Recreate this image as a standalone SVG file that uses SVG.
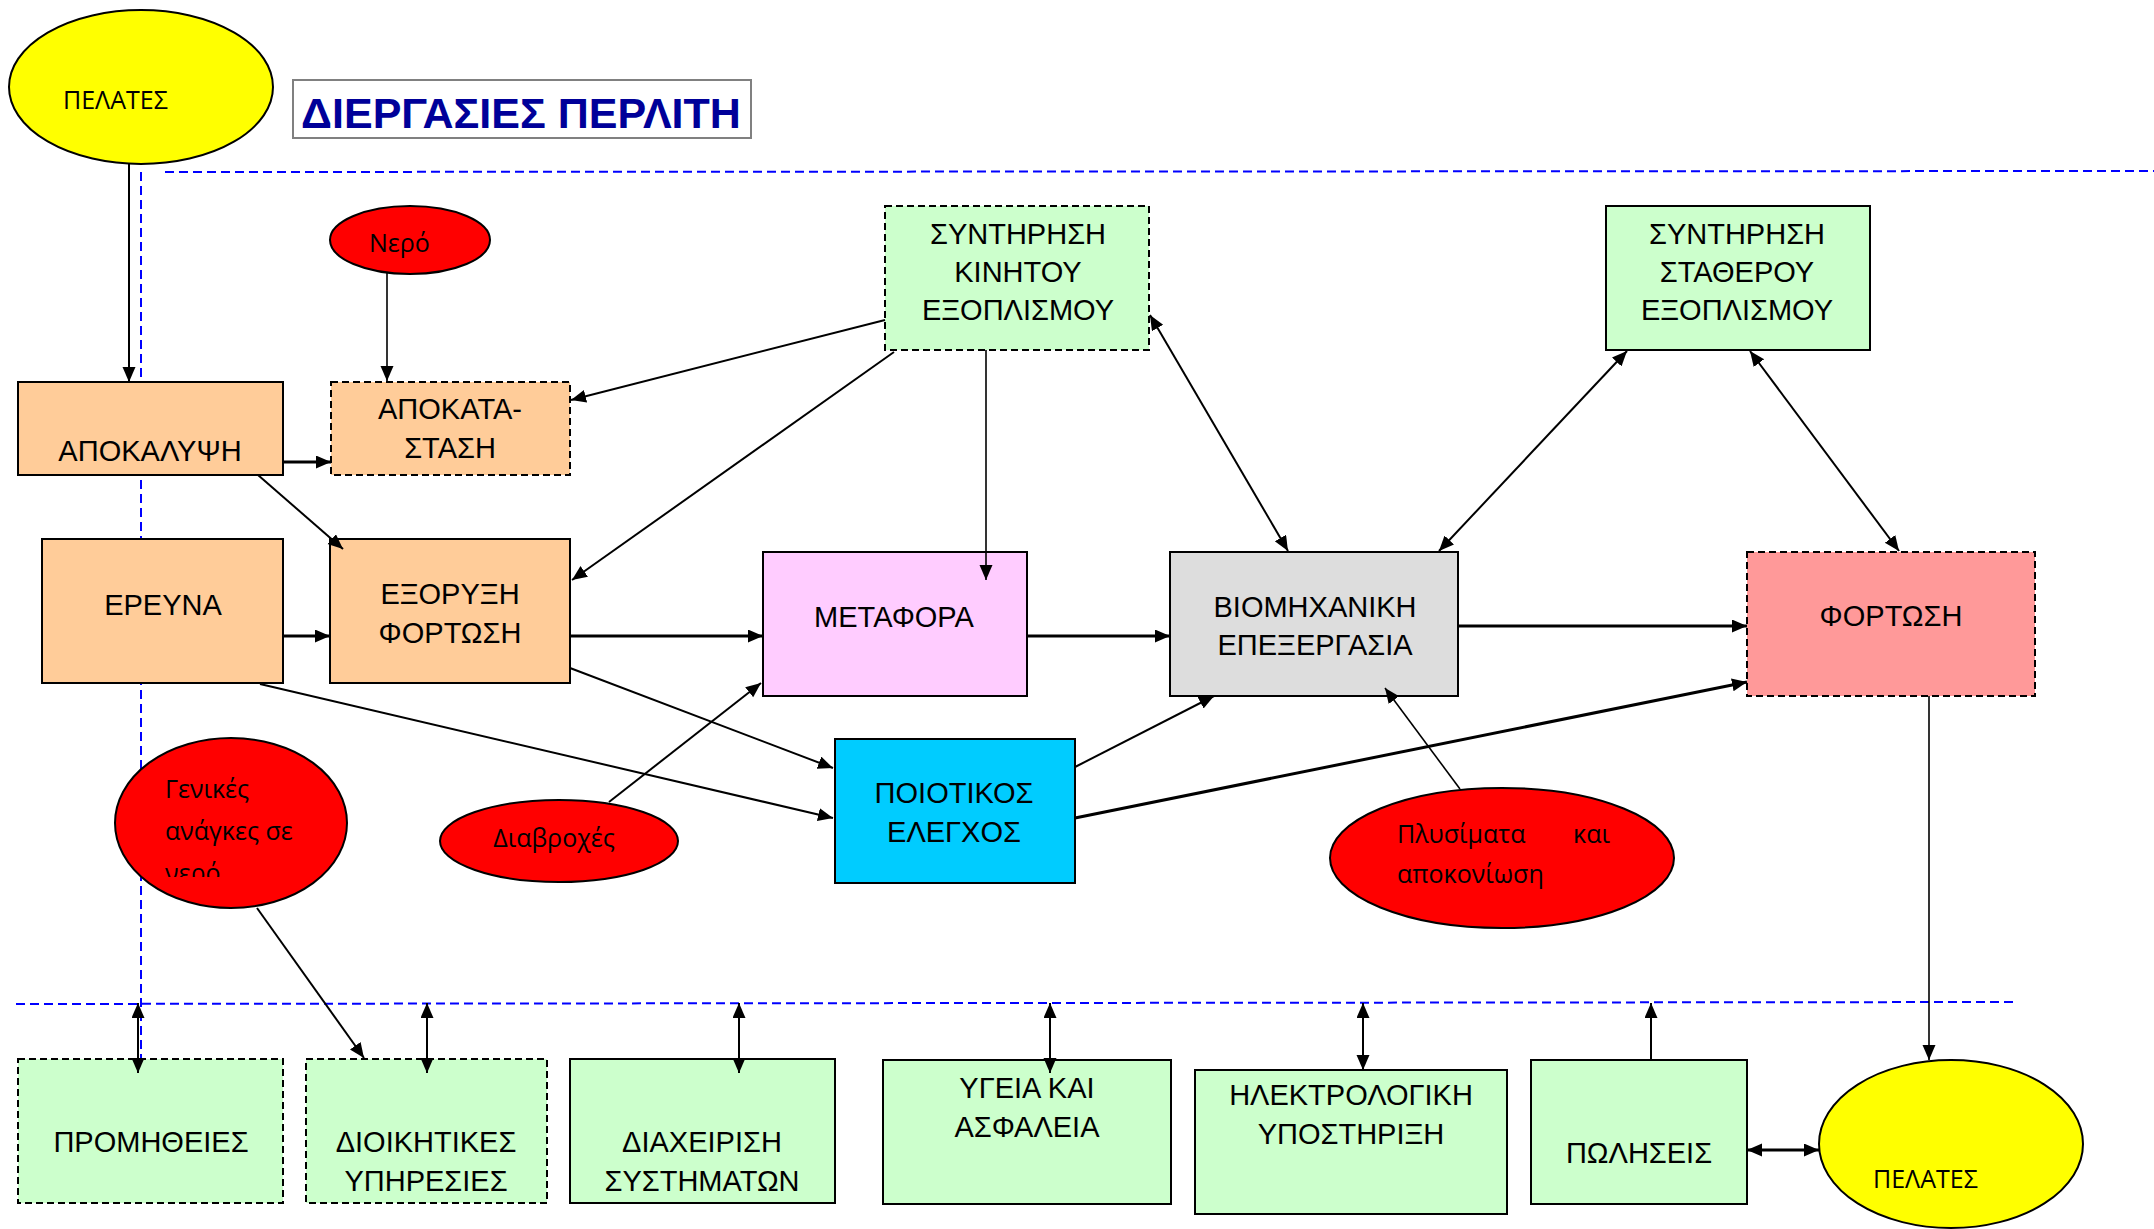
<svg xmlns="http://www.w3.org/2000/svg" width="2154" height="1229" viewBox="0 0 2154 1229">
<style>
.box{stroke:#000;stroke-width:2}
.dash{stroke-dasharray:7 4}
.or{fill:#FFCC99}.gr{fill:#CCFFCC}
.t{font-family:"Liberation Sans",Arial,sans-serif;font-size:29px;fill:#000;text-anchor:middle}
.e{font-family:"Open Sans","Noto Sans",sans-serif;font-size:25px;fill:#000}
.red{fill:#FF0000;stroke:#000;stroke-width:2}
.yel{fill:#FFFF00;stroke:#000;stroke-width:2}
.bl{stroke:#0000FF;stroke-width:2;stroke-dasharray:9 5;fill:none}
#connectors line{stroke:#000;fill:none;stroke-width:2}
#connectors .k{stroke-width:3}
#connectors .n{stroke-width:1.6}
</style>
<defs>
<marker id="a" markerUnits="userSpaceOnUse" markerWidth="16" markerHeight="14" refX="15" refY="6.5" orient="auto-start-reverse"><path d="M0,0 L15,6.5 L0,13 z" fill="#000"/></marker>
<clipPath id="gclip"><rect x="100" y="730" width="260" height="147"/></clipPath>
</defs>
<rect width="2154" height="1229" fill="#fff"/>
<g id="guides">
<line class="bl" x1="165" y1="172" x2="2154" y2="171"/>
<line class="bl" x1="141" y1="172" x2="141" y2="1062"/>
<line class="bl" x1="16" y1="1004" x2="2014" y2="1002"/>
</g>
<g id="title"><rect x="293" y="80" width="458" height="58" fill="#fff" stroke="#808080" stroke-width="2"/><text x="521" y="128" font-family="'Liberation Sans',Arial,sans-serif" font-size="43" font-weight="bold" fill="#000099" text-anchor="middle">ΔΙΕΡΓΑΣΙΕΣ ΠΕΡΛΙΤΗ</text></g>
<g id="pelates-top"><ellipse class="yel" cx="141" cy="87" rx="132" ry="77"/><text class="e" x="63" y="109" font-size="24">ΠΕΛΑΤΕΣ</text></g>
<g id="apokalypsi"><rect class="box or" x="18" y="382" width="265" height="93"/><text class="t" x="150" y="461">ΑΠΟΚΑΛΥΨΗ</text></g>
<g id="apokatastasi"><rect class="box or dash" x="331" y="382" width="239" height="93"/><text class="t" x="450" y="419">ΑΠΟΚΑΤΑ-</text><text class="t" x="450" y="458">ΣΤΑΣΗ</text></g>
<g id="nero"><ellipse class="red" cx="410" cy="240" rx="80" ry="34"/><text class="e" x="369" y="252">Νερό</text></g>
<g id="synt-kinitou"><rect class="box gr dash" x="885" y="206" width="264" height="144"/><text class="t" x="1018" y="244">ΣΥΝΤΗΡΗΣΗ</text><text class="t" x="1018" y="282">ΚΙΝΗΤΟΥ</text><text class="t" x="1018" y="320">ΕΞΟΠΛΙΣΜΟΥ</text></g>
<g id="synt-statherou"><rect class="box gr" x="1606" y="206" width="264" height="144"/><text class="t" x="1737" y="244">ΣΥΝΤΗΡΗΣΗ</text><text class="t" x="1737" y="282">ΣΤΑΘΕΡΟΥ</text><text class="t" x="1737" y="320">ΕΞΟΠΛΙΣΜΟΥ</text></g>
<g id="ereuna"><rect class="box or" x="42" y="539" width="241" height="144"/><text class="t" x="163" y="615">ΕΡΕΥΝΑ</text></g>
<g id="exoryxi"><rect class="box or" x="330" y="539" width="240" height="144"/><text class="t" x="450" y="604">ΕΞΟΡΥΞΗ</text><text class="t" x="450" y="643">ΦΟΡΤΩΣΗ</text></g>
<g id="metafora"><rect class="box" fill="#FFCCFF" x="763" y="552" width="264" height="144"/><text class="t" x="894" y="627">ΜΕΤΑΦΟΡΑ</text></g>
<g id="viomixaniki"><rect class="box" fill="#DDDDDD" x="1170" y="552" width="288" height="144"/><text class="t" x="1315" y="617">ΒΙΟΜΗΧΑΝΙΚΗ</text><text class="t" x="1315" y="655">ΕΠΕΞΕΡΓΑΣΙΑ</text></g>
<g id="fortosi"><rect class="box dash" fill="#FF9999" x="1747" y="552" width="288" height="144"/><text class="t" x="1891" y="626">ΦΟΡΤΩΣΗ</text></g>
<g id="poiotikos"><rect class="box" fill="#00CCFF" x="835" y="739" width="240" height="144"/><text class="t" x="954" y="803">ΠΟΙΟΤΙΚΟΣ</text><text class="t" x="954" y="842">ΕΛΕΓΧΟΣ</text></g>
<g id="genikes"><ellipse class="red" cx="231" cy="823" rx="116" ry="85"/><text class="e" x="165" y="798">Γενικές</text><text class="e" x="165" y="840">ανάγκες σε</text><text class="e" x="165" y="882" clip-path="url(#gclip)">νερό</text></g>
<g id="diavroxes"><ellipse class="red" cx="559" cy="841" rx="119" ry="41"/><text class="e" x="554" y="847" text-anchor="middle">Διαβροχές</text></g>
<g id="plysimata"><ellipse class="red" cx="1502" cy="858" rx="172" ry="70"/><text class="e" x="1397" y="843">Πλυσίματα</text><text class="e" x="1573" y="843">και</text><text class="e" x="1397" y="883">αποκονίωση</text></g>
<g id="promitheies"><rect class="box gr dash" x="18" y="1059" width="265" height="144"/><text class="t" x="151" y="1152">ΠΡΟΜΗΘΕΙΕΣ</text></g>
<g id="dioikitikes"><rect class="box gr dash" x="306" y="1059" width="241" height="144"/><text class="t" x="426" y="1152">ΔΙΟΙΚΗΤΙΚΕΣ</text><text class="t" x="426" y="1191">ΥΠΗΡΕΣΙΕΣ</text></g>
<g id="diaxeirisi"><rect class="box gr" x="570" y="1059" width="265" height="144"/><text class="t" x="702" y="1152">ΔΙΑΧΕΙΡΙΣΗ</text><text class="t" x="702" y="1191">ΣΥΣΤΗΜΑΤΩΝ</text></g>
<g id="ygeia"><rect class="box gr" x="883" y="1060" width="288" height="144"/><text class="t" x="1027" y="1098">ΥΓΕΙΑ ΚΑΙ</text><text class="t" x="1027" y="1137">ΑΣΦΑΛΕΙΑ</text></g>
<g id="ilektrologiki"><rect class="box gr" x="1195" y="1070" width="312" height="144"/><text class="t" x="1351" y="1105">ΗΛΕΚΤΡΟΛΟΓΙΚΗ</text><text class="t" x="1351" y="1144">ΥΠΟΣΤΗΡΙΞΗ</text></g>
<g id="poliseis"><rect class="box gr" x="1531" y="1060" width="216" height="144"/><text class="t" x="1639" y="1163">ΠΩΛΗΣΕΙΣ</text></g>
<g id="pelates-bottom"><ellipse class="yel" cx="1951" cy="1144" rx="132" ry="84"/><text class="e" x="1873" y="1188">ΠΕΛΑΤΕΣ</text></g>
<g id="connectors">
<line x1="129" y1="164" x2="129" y2="382" marker-end="url(#a)"/>
<line class="n" x1="387" y1="272" x2="387" y2="381" marker-end="url(#a)"/>
<line class="k" x1="283" y1="462" x2="331" y2="462" marker-end="url(#a)"/>
<line x1="885" y1="320" x2="571" y2="400" marker-end="url(#a)"/>
<line x1="258" y1="475" x2="343" y2="549" marker-end="url(#a)"/>
<line x1="894" y1="352" x2="572" y2="580" marker-end="url(#a)"/>
<line class="n" x1="986" y1="350" x2="986" y2="580" marker-end="url(#a)"/>
<line x1="1150" y1="315" x2="1288" y2="551" marker-start="url(#a)" marker-end="url(#a)"/>
<line x1="1627" y1="351" x2="1439" y2="551" marker-start="url(#a)" marker-end="url(#a)"/>
<line x1="1750" y1="351" x2="1899" y2="551" marker-start="url(#a)" marker-end="url(#a)"/>
<line class="k" x1="283" y1="636" x2="330" y2="636" marker-end="url(#a)"/>
<line class="k" x1="570" y1="636" x2="763" y2="636" marker-end="url(#a)"/>
<line class="k" x1="1027" y1="636" x2="1170" y2="636" marker-end="url(#a)"/>
<line class="k" x1="1458" y1="626" x2="1747" y2="626" marker-end="url(#a)"/>
<line x1="570" y1="668" x2="833" y2="768" marker-end="url(#a)"/>
<line x1="260" y1="684" x2="833" y2="818" marker-end="url(#a)"/>
<line x1="609" y1="802" x2="761" y2="683" marker-end="url(#a)"/>
<line x1="1075" y1="767" x2="1214" y2="696" marker-end="url(#a)"/>
<line class="k" x1="1075" y1="818" x2="1747" y2="682" marker-end="url(#a)"/>
<line class="n" x1="1460" y1="789" x2="1385" y2="688" marker-end="url(#a)"/>
<line class="n" x1="1929" y1="696" x2="1929" y2="1060" marker-end="url(#a)"/>
<line x1="257" y1="908" x2="364" y2="1058" marker-end="url(#a)"/>
<line x1="138" y1="1003" x2="138" y2="1073" marker-start="url(#a)" marker-end="url(#a)"/>
<line x1="427" y1="1003" x2="427" y2="1073" marker-start="url(#a)" marker-end="url(#a)"/>
<line x1="739" y1="1003" x2="739" y2="1073" marker-start="url(#a)" marker-end="url(#a)"/>
<line x1="1050" y1="1003" x2="1050" y2="1073" marker-start="url(#a)" marker-end="url(#a)"/>
<line x1="1363" y1="1003" x2="1363" y2="1070" marker-start="url(#a)" marker-end="url(#a)"/>
<line x1="1651" y1="1060" x2="1651" y2="1003" marker-end="url(#a)"/>
<line class="k" x1="1747" y1="1150" x2="1819" y2="1150" marker-start="url(#a)" marker-end="url(#a)"/>
</g>
</svg>
